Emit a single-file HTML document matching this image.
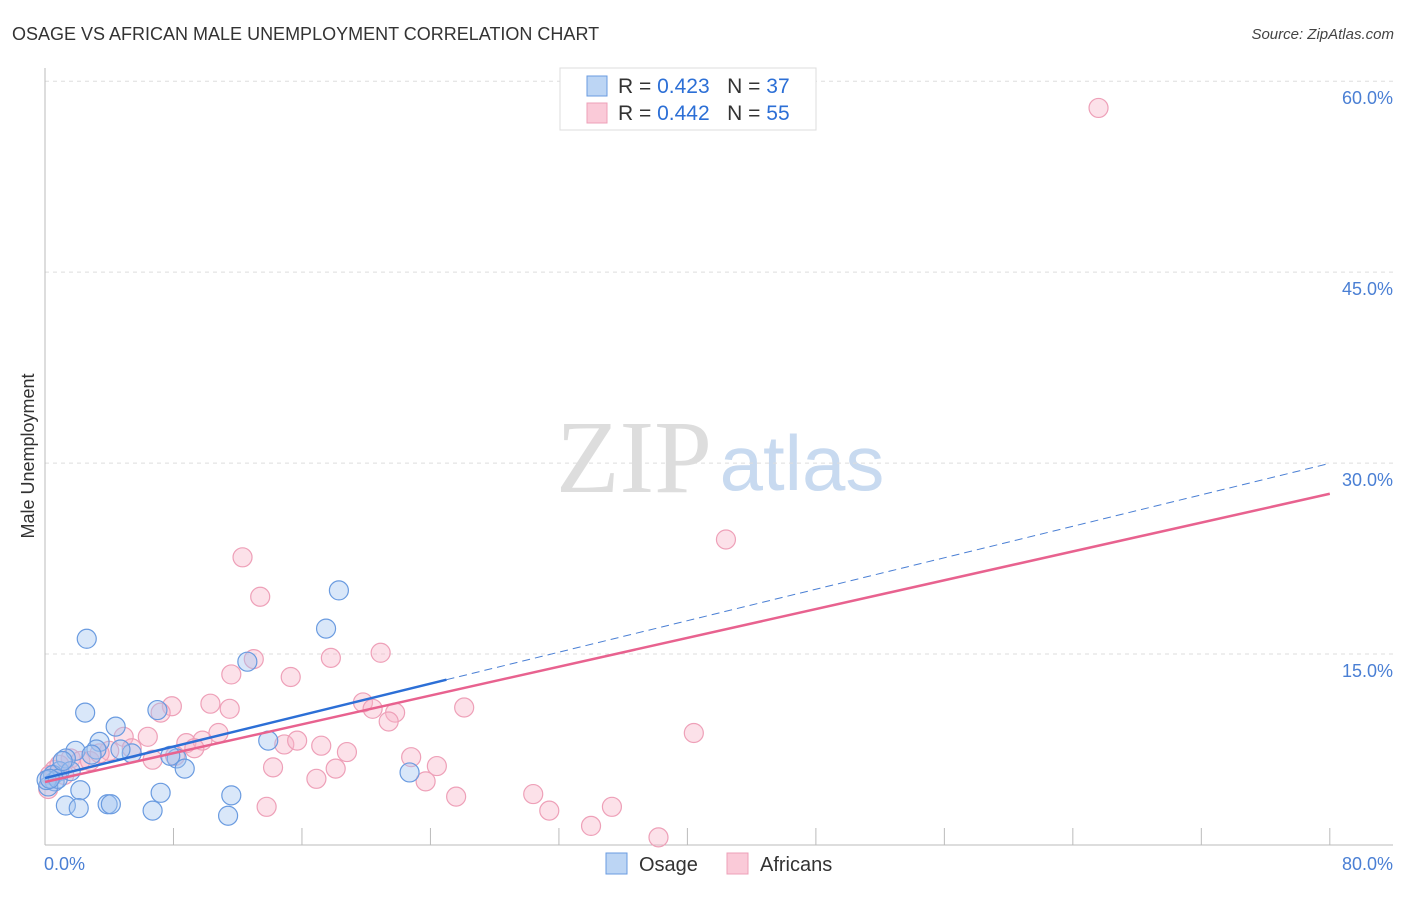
<!DOCTYPE html>
<html><head><meta charset="utf-8"><style>
body{margin:0;background:#fff;font-family:"Liberation Sans",sans-serif}
#c{position:relative;width:1406px;height:892px}
</style></head><body>
<div id="c">
<svg id="s" width="1406" height="892"></svg>
</div>
<script>
const osageX=[2.6,18.3,17.5,12.6,2.5,7.0,4.4,3.4,3.2,1.9,5.4,1.3,0.9,8.2,8.7,13.9,22.7,0.5,0.6,0.2,2.2,7.2,11.6,3.9,4.1,1.3,2.1,6.7,11.4,0.1,0.8,1.6,2.9,4.7,1.1,7.8,0.3];
const osageY=[16.2,20.0,17.0,14.4,10.4,10.6,9.3,8.1,7.5,7.4,7.2,6.8,5.8,6.8,6.0,8.2,5.7,5.5,5.0,4.6,4.3,4.1,3.9,3.2,3.2,3.1,2.9,2.7,2.3,5.1,5.2,5.8,7.1,7.5,6.6,7.0,5.2];
const afrX=[65.6,42.4,12.3,13.4,13.0,17.8,20.9,11.6,15.3,7.9,10.3,11.5,7.2,19.8,20.4,21.8,21.4,26.1,40.4,4.9,6.4,10.8,8.8,9.8,5.4,4.0,6.7,14.9,15.7,17.2,18.8,22.8,24.4,14.2,18.1,16.9,23.7,25.6,30.4,31.4,35.3,34.0,38.2,13.8,1.6,2.2,0.6,0.3,0.2,0.9,2.8,3.4,8.1,9.3,1.2];
const afrY=[57.9,24.0,22.6,19.5,14.6,14.7,15.1,13.4,13.2,10.9,11.1,10.7,10.4,11.2,10.7,10.4,9.7,10.8,8.8,8.5,8.5,8.8,8.0,8.2,7.6,7.4,6.7,7.9,8.2,7.8,7.3,6.9,6.2,6.1,6.0,5.2,5.0,3.8,4.0,2.7,3.0,1.5,0.6,3.0,6.8,6.6,5.9,5.5,4.4,6.3,6.6,7.2,7.0,7.6,5.5];
const yTicks=[15,30,45,60];
const yTickLabels=["15.0%","30.0%","45.0%","60.0%"];
const blueLine={a:5.26,b:0.309,solidEnd:25};
const pinkLine={a:4.95,b:0.283};
const NS="http://www.w3.org/2000/svg";
const s=document.getElementById('s');
const X=v=>45+v*16.06, Y=v=>845-v*12.73;
function el(t,a,p){const e=document.createElementNS(NS,t);for(const k in a)e.setAttribute(k,a[k]);(p||s).appendChild(e);return e;}
let t=el('text',{x:12,y:40,'font-size':18,fill:'#333'});t.textContent='OSAGE VS AFRICAN MALE UNEMPLOYMENT CORRELATION CHART';

t=el('text',{x:1394,y:39,'font-size':15,fill:'#444','font-style':'italic','text-anchor':'end'});t.textContent='Source: ZipAtlas.com';

t=el('text',{x:634,y:492,'font-size':104,fill:'#ddd','font-family':'Liberation Serif, serif','text-anchor':'middle'});t.textContent='ZIP';

t=el('text',{x:802,y:490,'font-size':78,fill:'#c8daf0','text-anchor':'middle'});t.textContent='atlas';

yTicks.forEach((v,i)=>{
 const g=el('line',{x1:45,x2:1393,y1:Y(v),y2:Y(v),stroke:'#ddd','stroke-dasharray':'4,4'});
 
 const l=el('text',{x:1393,y:Y(v)+23,'font-size':18,fill:'#4a7fd4','text-anchor':'end'});l.textContent=yTickLabels[i];
 
});
let a=el('line',{x1:45,x2:45,y1:68,y2:845,stroke:'#bbb'});
a=el('line',{x1:45,x2:1393,y1:845,y2:845,stroke:'#bbb'});
for(let i=1;i<=10;i++){const k=el('line',{x1:X(i*8),x2:X(i*8),y1:828,y2:845,stroke:'#bbb'});}
t=el('text',{x:44,y:870,'font-size':18,fill:'#4a7fd4'});t.textContent='0.0%';
t=el('text',{x:1393,y:870,'font-size':18,fill:'#4a7fd4','text-anchor':'end'});t.textContent='80.0%';
t=el('text',{x:34,y:456,'font-size':18,fill:'#333','text-anchor':'middle',transform:'rotate(-90 34 456)'});t.textContent='Male Unemployment';

afrX.forEach((x,i)=>{const c=el('circle',{cx:X(x),cy:Y(afrY[i]),r:9.5,fill:'rgba(248,180,200,0.4)',stroke:'#eea0b8','stroke-width':1.2});
 });
osageX.forEach((x,i)=>{const c=el('circle',{cx:X(x),cy:Y(osageY[i]),r:9.5,fill:'rgba(160,195,240,0.4)',stroke:'#6a9be0','stroke-width':1.2});
 });
let ln=el('line',{x1:X(blueLine.solidEnd),y1:Y(blueLine.a+blueLine.b*blueLine.solidEnd),x2:X(80),y2:Y(blueLine.a+blueLine.b*80),stroke:'#4a7fd4','stroke-width':1,'stroke-dasharray':'8,5'});

ln=el('line',{x1:X(0),y1:Y(pinkLine.a),x2:X(80),y2:Y(pinkLine.a+pinkLine.b*80),stroke:'#e8628f','stroke-width':2.5});

ln=el('line',{x1:X(0),y1:Y(blueLine.a),x2:X(blueLine.solidEnd),y2:Y(blueLine.a+blueLine.b*blueLine.solidEnd),stroke:'#2c6fd6','stroke-width':2.5});

let b=el('rect',{x:560,y:68,width:256,height:62,fill:'#fff',stroke:'#ddd'});
[[0.423,37,'rgba(160,195,240,0.7)','#6a9be0'],[0.442,55,'rgba(248,180,200,0.7)','#eea0b8']].forEach((r,i)=>{
 const y=86+i*27;
 const q=el('rect',{x:587,y:y-10,width:20,height:20,fill:r[2],stroke:r[3]});
 const tx=el('text',{x:618,y:y+7,'font-size':21,fill:'#333'});
 tx.innerHTML='R = <tspan fill="#2c6fd6">'+r[0].toFixed(3)+'</tspan>   N = <tspan fill="#2c6fd6">'+r[1]+'</tspan>';
 tx.setAttribute('xml:space','preserve');tx.style.whiteSpace='pre';
});
[[606,'Osage','rgba(160,195,240,0.7)','#6a9be0'],[727,'Africans','rgba(248,180,200,0.7)','#eea0b8']].forEach(r=>{
 const q=el('rect',{x:r[0],y:853,width:21,height:21,fill:r[2],stroke:r[3]});
 const tx=el('text',{x:r[0]+33,y:871,'font-size':20,fill:'#333'});tx.textContent=r[1];
});
</script>
</body></html>
